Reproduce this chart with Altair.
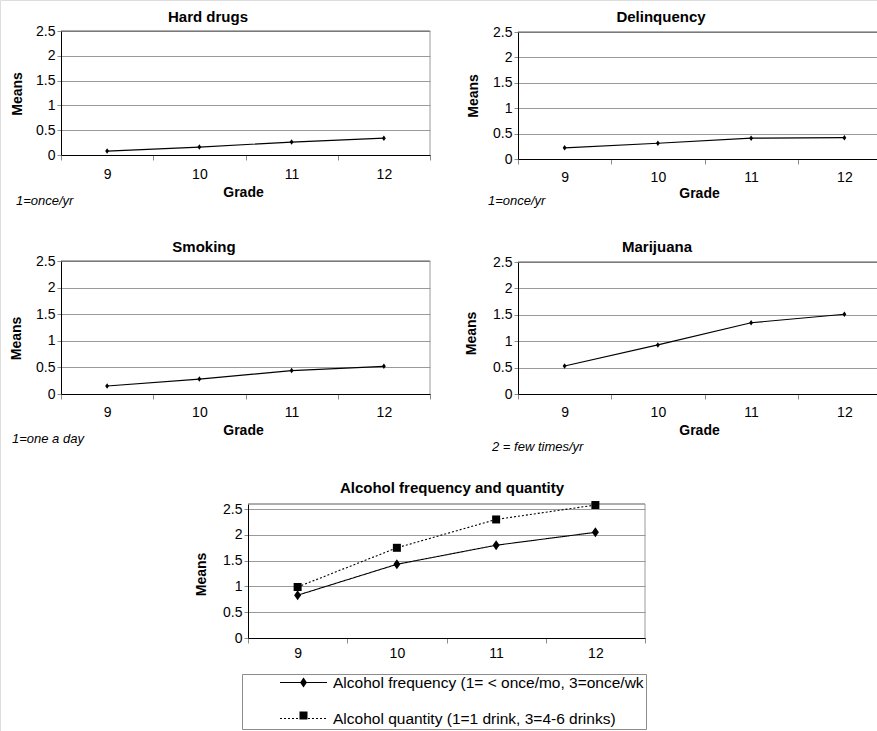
import altair as alt
import pandas as pd

# Mean scores by grade for each behaviour
grades = [9, 10, 11, 12]
hard_drugs = [0.08, 0.16, 0.26, 0.34]
delinquency = [0.22, 0.31, 0.41, 0.42]
smoking = [0.15, 0.28, 0.44, 0.52]
marijuana = [0.53, 0.93, 1.35, 1.51]
alcohol_frequency = [0.83, 1.43, 1.80, 2.05]
alcohol_quantity = [0.99, 1.75, 2.30, 2.58]

alcohol_series = [
    "Alcohol frequency (1= < once/mo, 3=once/wk",
    "Alcohol quantity (1=1 drink, 3=4-6 drinks)",
]
mean_ticks = [0, 0.5, 1, 1.5, 2, 2.5]
grade_edges = [8.5, 9.5, 10.5, 11.5, 12.5]

W, H = 877, 731
FONT = "Liberation Sans, Arial, sans-serif"
TALL_DIAMOND = "M0,-1L0.7,0L0,1L-0.7,0Z"
BOX = "M-0.8,-0.8H0.8V0.8H-0.8Z"
GRID = "#9a9a9a"
TICK = "#8c8c8c"


def frame_df(values, series=None):
    d = pd.DataFrame({"grade": grades, "value": values})
    if series is not None:
        d["series"] = series
    return d


def text_layer(text, x, y, **kw):
    return alt.Chart(pd.DataFrame({"t": [text]})).mark_text(
        font=FONT, color="black", **kw
    ).encode(x=alt.value(x), y=alt.value(y), text="t:N")


class Panel:
    """Scales and axes of one small chart placed at fixed pixel ranges."""

    def __init__(self, xr, yr, y_max, grade_xy, means_xy, label_pad):
        self.y_max = y_max
        self.xs = alt.Scale(domain=[8.5, 12.5], range=list(xr), nice=False, zero=False)
        self.ys = alt.Scale(domain=[0, y_max], range=list(yr), nice=False, zero=False)
        half = (xr[1] - xr[0]) / 8
        xa = dict(
            orient="bottom", offset=yr[0] - H, values=grade_edges,
            labelExpr="datum.value < 12 ? format(datum.value + 0.5, 'd') : ''",
            labelOffset=half, labelPadding=label_pad, tickSize=5, tickColor=TICK,
            domainColor="black", grid=False, labelFlush=False, labelOverlap=False,
            labelFontSize=14, labelColor="black",
        )
        if grade_xy:
            xa.update(title="Grade", titleX=grade_xy[0], titleY=grade_xy[1],
                      titleBaseline="middle", titleAlign="center",
                      titleFontSize=14, titleFontWeight="bold", titleColor="black")
        else:
            xa["title"] = None
        ya = dict(
            orient="left", offset=-xr[0], values=mean_ticks, format=".1~f",
            tickSize=4, tickColor=TICK, domainColor="black", grid=True,
            gridColor=GRID, labelPadding=2, labelFontSize=14, labelColor="black",
            title="Means", titleX=means_xy[0] - xr[0], titleY=means_xy[1],
            titleBaseline="middle", titleAlign="center", titleFontSize=14,
            titleFontWeight="bold", titleColor="black",
        )
        self.xa = alt.Axis(**xa)
        self.ya = alt.Axis(**ya)

    def X(self, **kw):
        return alt.X(scale=self.xs, axis=self.xa, **kw)

    def Y(self, **kw):
        return alt.Y(scale=self.ys, axis=self.ya, **kw)

    def borders(self):
        one = pd.DataFrame({"k": [0]})
        top = alt.Chart(one).mark_rule(color="#5a5a5a", strokeWidth=1).encode(
            x=self.X(datum=8.5), x2=alt.X2(datum=12.5), y=self.Y(datum=self.y_max),
        )
        right = alt.Chart(one).mark_rule(color="#9a9a9a", strokeWidth=1).encode(
            x=self.X(datum=12.5), y=self.Y(datum=0), y2=alt.Y2(datum=self.y_max),
        )
        return [top, right]

    def series(self, d, marker, size, width=1.2):
        line = alt.Chart(d).mark_line(color="black", strokeWidth=width).encode(
            x=self.X(field="grade", type="quantitative"),
            y=self.Y(field="value", type="quantitative"))
        pts = alt.Chart(d).mark_point(shape=marker, filled=True, size=size, color="black", opacity=1).encode(
            x=self.X(field="grade", type="quantitative"),
            y=self.Y(field="value", type="quantitative"))
        return [line, pts]


def small_panel(values, xr, yr, title, title_xy, grade_xy, means_xy, note, note_xy, label_pad=6):
    p = Panel(xr, yr, 2.5, grade_xy, means_xy, label_pad)
    layers = p.borders() + p.series(frame_df(values), TALL_DIAMOND, 30)
    layers.append(text_layer(title, title_xy[0], title_xy[1], fontSize=15, fontWeight="bold", align="center", baseline="middle"))
    layers.append(text_layer(note, note_xy[0], note_xy[1], fontSize=13, fontStyle="italic", align="left", baseline="middle"))
    return alt.layer(*layers)


p1 = small_panel(hard_drugs, (61, 430), (155, 31), "Hard drugs", (208, 17),
                 (243, 37), (17, 93.5), "1=once/yr", (16, 201), label_pad=7)
p2 = small_panel(delinquency, (518, 891), (159, 32), "Delinquency", (661, 17),
                 (699, 34), (473, 95.5), "1=once/yr", (488, 201))
p3 = small_panel(smoking, (61, 430), (394, 261), "Smoking", (204, 247),
                 (243, 36), (16, 338), "1=one a day", (12, 439))
p4 = small_panel(marijuana, (518, 891), (394, 262), "Marijuana", (657, 247),
                 (699, 36), (471, 333), "2 = few times/yr", (492, 447))

# Alcohol panel: two series plus a boxed legend underneath.
# The line legend (strokes + labels) and the marker legend (no labels)
# share one position so each key shows a line with its marker on top.
a = Panel((248, 645), (638, 504), 2.6, None, (201, 574), 3)
both = pd.concat([frame_df(alcohol_frequency, alcohol_series[0]),
                  frame_df(alcohol_quantity, alcohol_series[1])], ignore_index=True)

common = dict(title=None, orient="none", legendX=242, legendY=674, direction="vertical",
              padding=2, clipHeight=13, rowPadding=20)
line_legend = alt.Legend(
    **common, strokeColor=TICK, symbolType="stroke", symbolSize=47 * 47,
    symbolStrokeWidth=1.1, symbolStrokeColor="black", symbolOffset=35, labelOffset=5,
    labelLimit=600, labelFont=FONT, labelFontSize=15.5, labelColor="black",
    labelExpr="datum.label + '" + "\u00a0" * 5 + "'",
)
marker_legend = alt.Legend(
    **common, symbolSize=100, symbolOffset=53.5, labelExpr="''",
    symbolFillColor="black", symbolStrokeColor="black", symbolOpacity=1,
)

alc_lines = alt.Chart(both).mark_line(color="black", strokeWidth=1.1).encode(
    x=a.X(field="grade", type="quantitative"),
    y=a.Y(field="value", type="quantitative"),
    strokeDash=alt.StrokeDash("series:N", scale=alt.Scale(domain=alcohol_series, range=[[1, 0], [2, 2]]),
                              legend=line_legend),
)
alc_points = alt.Chart(both).mark_point(filled=True, size=100, color="black", opacity=1).encode(
    x=a.X(field="grade", type="quantitative"),
    y=a.Y(field="value", type="quantitative"),
    shape=alt.Shape("series:N", scale=alt.Scale(range=[TALL_DIAMOND, BOX]), legend=marker_legend),
)

p5 = alt.layer(
    *a.borders(), alc_lines, alc_points,
    text_layer("Alcohol frequency and quantity", 452, 488, fontSize=15, fontWeight="bold", align="center", baseline="middle"),
)

chart = alt.layer(p1, p2, p3, p4, p5).resolve_scale(
    x="independent", y="independent"
).resolve_axis(
    x="independent", y="independent"
).properties(
    width=W, height=H, padding=0, autosize=alt.AutoSizeParams(type="none"),
).configure_view(stroke=None).configure_axis(
    labelFont=FONT, titleFont=FONT
).configure(background="white")

chart.save("out.html", embed_options={"renderer": "svg", "actions": False})
